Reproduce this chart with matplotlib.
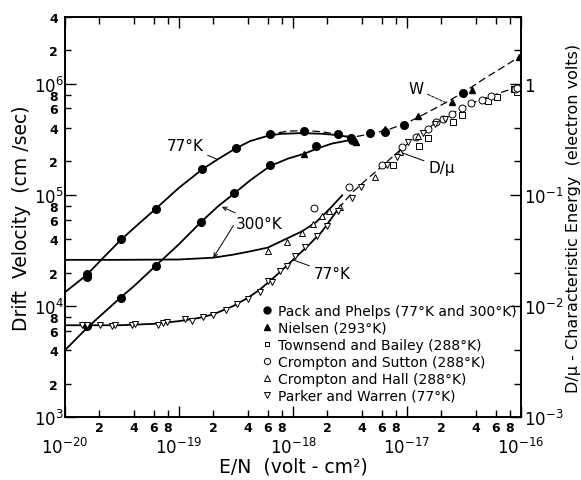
import math

import matplotlib
matplotlib.use("Agg")
import matplotlib.pyplot as plt
from matplotlib.lines import Line2D
from matplotlib.ticker import FixedLocator, FuncFormatter, NullFormatter

# E/N in volt-cm^2, drift velocity W in cm/sec, D/mu in electron volts

# Pack and Phelps, drift velocity (77 K and 300 K)
pack_en = [1.55e-20, 1.55e-20, 3.1e-20, 6.25e-20, 1.6e-19, 3.14e-19, 6.28e-19, 1.26e-18,
           2.5e-18, 3.23e-18, 4.73e-18, 6.41e-18, 9.5e-18, 3.08e-17,
           1.55e-20, 3.1e-20, 6.25e-20, 1.56e-19, 3.05e-19, 6.28e-19, 1.58e-18, 3.27e-18]
pack_w = [1.94e4, 1.82e4, 4.0e4, 7.5e4, 1.71e5, 2.64e5, 3.55e5, 3.75e5,
          3.5e5, 3.24e5, 3.62e5, 3.72e5, 4.3e5, 8.3e5,
          6.6e3, 1.18e4, 2.3e4, 5.75e4, 1.04e5, 1.84e5, 2.75e5, 3.1e5]

# Nielsen, drift velocity (293 K)
nielsen_en = [1.26e-18, 3.57e-18, 6.41e-18, 1.26e-17, 2.47e-17, 3.70e-17, 9.6e-17]
nielsen_w = [2.34e5, 3.02e5, 3.95e5, 5.18e5, 6.93e5, 8.89e5, 1.74e6]

# Townsend and Bailey, D/mu (288 K)
townsend_en = [7.58e-18, 1.28e-17, 1.52e-17, 2.55e-17, 3.02e-17, 5.17e-17, 6.19e-17, 8.6e-17, 9.3e-17]
townsend_dmu = [0.186, 0.275, 0.325, 0.457, 0.526, 0.698, 0.759, 0.90, 0.85]

# Crompton and Sutton, D/mu (288 K)
sutton_en = [1.54e-18, 3.12e-18, 6.0e-18, 8.99e-18, 1.20e-17, 1.52e-17, 1.78e-17, 2.08e-17,
             2.47e-17, 3.02e-17, 3.62e-17, 4.52e-17, 5.42e-17, 8.85e-17, 9.2e-17]
sutton_dmu = [0.0763, 0.117, 0.186, 0.27, 0.331, 0.393, 0.452, 0.484,
              0.537, 0.604, 0.670, 0.722, 0.785, 0.89, 0.915]

# Crompton and Hall, D/mu (288 K)
hall_en = [6.07e-19, 8.9e-19, 1.21e-18, 1.51e-18, 1.79e-18, 2.07e-18, 2.58e-18,
           5.24e-18, 8.68e-18, 1.26e-17]
hall_dmu = [0.0315, 0.0375, 0.0455, 0.0548, 0.0651, 0.0722, 0.0775,
            0.144, 0.243, 0.342]

# Parker and Warren, D/mu (77 K)
parker_en = [1.40e-20, 1.55e-20, 2.03e-20, 2.57e-20, 2.75e-20, 3.85e-20, 4.11e-20, 6.58e-20,
             7.24e-20, 7.8e-20, 1.13e-19, 1.29e-19, 1.63e-19, 2.0e-19, 2.57e-19, 3.21e-19,
             4.0e-19, 5.14e-19, 6.07e-19, 6.5e-19, 7.69e-19, 8.8e-19, 1.04e-18, 1.27e-18,
             1.61e-18, 1.98e-18, 2.50e-18, 3.27e-18, 3.95e-18, 6.71e-18, 8.12e-18, 1.03e-17,
             1.39e-17, 1.76e-17, 2.15e-17]
parker_dmu = [0.00674, 0.00674, 0.00674, 0.0066, 0.0067, 0.0068, 0.0069, 0.0068,
              0.0070, 0.0071, 0.00764, 0.00737, 0.0079, 0.0083, 0.0092, 0.0104,
              0.0116, 0.0133, 0.0169, 0.0164, 0.0208, 0.0231, 0.0284, 0.0342,
              0.043, 0.0529, 0.0722, 0.094, 0.117, 0.184, 0.219, 0.298,
              0.36, 0.437, 0.48]

# fitted curves
w77_en = [1e-20, 1.55e-20, 2e-20, 3.1e-20, 4e-20, 6.25e-20, 1e-19, 1.6e-19, 2.2e-19,
          3.1e-19, 4.2e-19, 6.3e-19, 8e-19, 1.2e-18, 1.8e-18, 2.5e-18, 3.2e-18]
w77 = [1.33e4, 1.9e4, 2.5e4, 3.95e4, 5.0e4, 7.5e4, 1.16e5, 1.7e5, 2.1e5,
       2.6e5, 3.05e5, 3.45e5, 3.55e5, 3.6e5, 3.55e5, 3.45e5, 3.3e5]

w300_en = [1e-20, 1.55e-20, 2e-20, 3.1e-20, 4e-20, 6.25e-20, 1e-19, 1.56e-19, 2.2e-19,
           3.05e-19, 4.2e-19, 6.3e-19, 9e-19, 1.26e-18, 1.6e-18, 2.2e-18, 3.2e-18]
w300 = [4.0e3, 6.3e3, 8.0e3, 1.2e4, 1.5e4, 2.3e4, 3.6e4, 5.7e4, 7.9e4,
        1.03e5, 1.35e5, 1.82e5, 2.12e5, 2.35e5, 2.6e5, 2.9e5, 3.12e5]

w_hi_en = [6e-19, 9e-19, 1.3e-18, 1.8e-18, 2.5e-18, 3.3e-18, 4.5e-18, 6.5e-18,
           1e-17, 1.5e-17, 2.2e-17, 3.2e-17, 5e-17, 7e-17, 1e-16]
w_hi = [3.5e5, 3.75e5, 3.8e5, 3.7e5, 3.5e5, 3.3e5, 3.5e5, 3.8e5,
        4.45e5, 5.5e5, 6.8e5, 8.5e5, 1.15e6, 1.42e6, 1.79e6]

dmu300_en = [1e-20, 3e-20, 1e-19, 2e-19, 3e-19, 4.2e-19, 6e-19, 8.2e-19, 1.2e-18,
             1.6e-18, 2.1e-18, 2.7e-18]
dmu300 = [0.026, 0.026, 0.0262, 0.0272, 0.029, 0.031, 0.0335, 0.039, 0.047,
          0.057, 0.075, 0.099]

dmu77_en = [1e-20, 3e-20, 6e-20, 1e-19, 1.5e-19, 2e-19, 3e-19, 4e-19, 5.1e-19,
            7e-19, 1e-18, 1.4e-18, 1.8e-18, 2.5e-18]
dmu77 = [0.0067, 0.0067, 0.0069, 0.0073, 0.0078, 0.0084, 0.0100, 0.0118, 0.0140,
         0.0185, 0.026, 0.036, 0.047, 0.075]

dmu_hi_en = [2.5e-18, 3.3e-18, 4.5e-18, 6e-18, 8e-18, 1e-17, 1.3e-17, 1.7e-17,
             2.2e-17, 3e-17, 4e-17, 5.5e-17, 7.5e-17, 1e-16]
dmu_hi = [0.075, 0.105, 0.14, 0.18, 0.235, 0.285, 0.35, 0.43,
          0.5, 0.6, 0.69, 0.78, 0.87, 0.96]

legend_labels = ["Pack and Phelps (77°K and 300°K)", "Nielsen (293°K)",
                 "Townsend and Bailey (288°K)", "Crompton and Sutton (288°K)",
                 "Crompton and Hall (288°K)", "Parker and Warren (77°K)"]


def decade_label(v, pos):
    return r'$10^{%d}$' % round(math.log10(v))


def mantissa_label(v, pos):
    return '%d' % round(v / 10 ** math.floor(math.log10(v) + 1e-9))


def energy_label(v, pos):
    return '1' if v == 1 else decade_label(v, pos)


plt.rcParams['font.family'] = 'DejaVu Sans'

fig = plt.figure(figsize=(5.81, 4.81), dpi=100)
ax = fig.add_axes([0.1119, 0.131, 0.7848, 0.8316])
ax2 = ax.twinx()

ax.set_xscale('log')
ax.set_yscale('log')
ax2.set_yscale('log')
ax.set_xlim(1e-20, 1e-16)
ax.set_ylim(1e3, 4e6)
ax2.set_ylim(1e-3, 4)

# curves
ax.plot(w77_en, w77, color='black', lw=1.3)
ax.plot(w300_en, w300, color='black', lw=1.3)
ax.plot(w_hi_en, w_hi, color='black', lw=0.9, dashes=(6, 3))
ax2.plot(dmu300_en, dmu300, color='black', lw=1.3)
ax2.plot(dmu77_en, dmu77, color='black', lw=1.3)
ax2.plot(dmu_hi_en, dmu_hi, color='black', lw=0.9, dashes=(6, 3))

# data points
ax.plot(pack_en, pack_w, 'o', color='black', ms=5.5, ls='none')
ax.plot(nielsen_en, nielsen_w, '^', color='black', ms=4.5, ls='none')
ax2.plot(townsend_en, townsend_dmu, 's', mfc='white', mec='black', mew=0.7, ms=4, ls='none')
ax2.plot(sutton_en, sutton_dmu, 'o', mfc='white', mec='black', mew=0.7, ms=5, ls='none')
ax2.plot(hall_en, hall_dmu, '^', mfc='white', mec='black', mew=0.7, ms=4.5, ls='none')
ax2.plot(parker_en, parker_dmu, 'v', mfc='white', mec='black', mew=0.7, ms=4.5, ls='none')

# curve labels
lead = dict(arrowstyle='-', lw=0.7, color='black', shrinkA=1, shrinkB=0)
head = dict(arrowstyle='->', lw=0.7, color='black', shrinkA=1, shrinkB=0,
            mutation_scale=7)
ax.annotate('77°K', xy=(2.15e-19, 2.1e5), xytext=(1.13e-19, 2.76e5),
            ha='center', va='center', fontsize=11, arrowprops=lead)
ax.annotate('300°K', xy=(2.38e-19, 7.8e4), xytext=(5.1e-19, 5.5e4),
            ha='center', va='center', fontsize=11, arrowprops=head)
ax.annotate('', xy=(2.0e-19, 2.72e4), xytext=(3.0e-19, 5.3e4),
            arrowprops=dict(head, shrinkA=0))
ax.annotate('77°K', xy=(1.0e-18, 2.6e4), xytext=(2.2e-18, 1.94e4),
            ha='center', va='center', fontsize=11, arrowprops=lead)
ax.annotate('W', xy=(2.24e-17, 6.7e5), xytext=(1.2e-17, 9.0e5),
            ha='center', va='center', fontsize=11,
            arrowprops=dict(lead, ls=(0, (3, 1.5))))
ax.annotate('D/μ', xy=(8.5e-18, 2.45e5), xytext=(2.0e-17, 1.78e5),
            ha='center', va='center', fontsize=11, arrowprops=lead)

# x ticks: decades below, 2-4-6-8 right under the axis
x_major = [1e-20, 1e-19, 1e-18, 1e-17, 1e-16]
x_minor = [m * d for d in x_major[:-1] for m in (2, 4, 6, 8)]
ax.xaxis.set_major_locator(FixedLocator(x_major))
ax.xaxis.set_minor_locator(FixedLocator(x_minor))
ax.xaxis.set_major_formatter(FuncFormatter(decade_label))
ax.xaxis.set_minor_formatter(FuncFormatter(mantissa_label))

y_major = [1e3, 1e4, 1e5, 1e6]
y_minor = [m * d for d in y_major for m in (2, 4, 6, 8) if m * d <= 4e6]
ax.yaxis.set_major_locator(FixedLocator(y_major))
ax.yaxis.set_minor_locator(FixedLocator(y_minor))
ax.yaxis.set_major_formatter(FuncFormatter(decade_label))
ax.yaxis.set_minor_formatter(FuncFormatter(mantissa_label))

r_major = [1e-3, 1e-2, 1e-1, 1]
r_minor = [m * d for d in r_major for m in (2, 4) if m * d <= 4]
ax2.yaxis.set_major_locator(FixedLocator(r_major))
ax2.yaxis.set_minor_locator(FixedLocator(r_minor))
ax2.yaxis.set_major_formatter(FuncFormatter(energy_label))
ax2.yaxis.set_minor_formatter(NullFormatter())

ax.tick_params(axis='x', which='both', direction='in', top=True, width=1.0)
ax.tick_params(axis='x', which='major', length=8, pad=14, labelsize=12)
ax.tick_params(axis='x', which='minor', length=5, pad=3, labelsize=9)
ax.tick_params(axis='y', which='both', direction='in', right=False, width=1.0)
ax.tick_params(axis='y', which='major', length=8, pad=1, labelsize=12)
ax.tick_params(axis='y', which='minor', length=4, pad=5, labelsize=9)
ax2.tick_params(axis='y', which='both', direction='in', width=1.0)
ax2.tick_params(axis='y', which='major', length=8, pad=2, labelsize=12)
ax2.tick_params(axis='y', which='minor', length=5)
for lbl in ax.xaxis.get_minorticklabels() + ax.yaxis.get_minorticklabels():
    lbl.set_fontweight('bold')

for a in (ax, ax2):
    for s in a.spines.values():
        s.set_linewidth(1.2)

ax.set_xlabel('E/N  (volt - cm²)', fontsize=13.5, labelpad=0)
ax.set_ylabel('Drift  Velocity  (cm /sec)', fontsize=13.5, labelpad=2)
ax2.set_ylabel('D/μ - Characteristic Energy  (electron volts)', fontsize=11.5, labelpad=2)

handles = [
    Line2D([], [], marker='o', color='black', ls='none', ms=5),
    Line2D([], [], marker='^', color='black', ls='none', ms=4),
    Line2D([], [], marker='s', mfc='white', mec='black', mew=0.7, ls='none', ms=3.5),
    Line2D([], [], marker='o', mfc='white', mec='black', mew=0.7, ls='none', ms=4.5),
    Line2D([], [], marker='^', mfc='white', mec='black', mew=0.7, ls='none', ms=4),
    Line2D([], [], marker='v', mfc='white', mec='black', mew=0.7, ls='none', ms=4),
]
ax2.legend(handles, legend_labels, loc='lower left', bbox_to_anchor=(0.43, 0.035),
           frameon=False, fontsize=10, handlelength=0.8, handletextpad=0.4,
           labelspacing=0.22, borderpad=0, borderaxespad=0)

fig.savefig('out.png', dpi=100)
